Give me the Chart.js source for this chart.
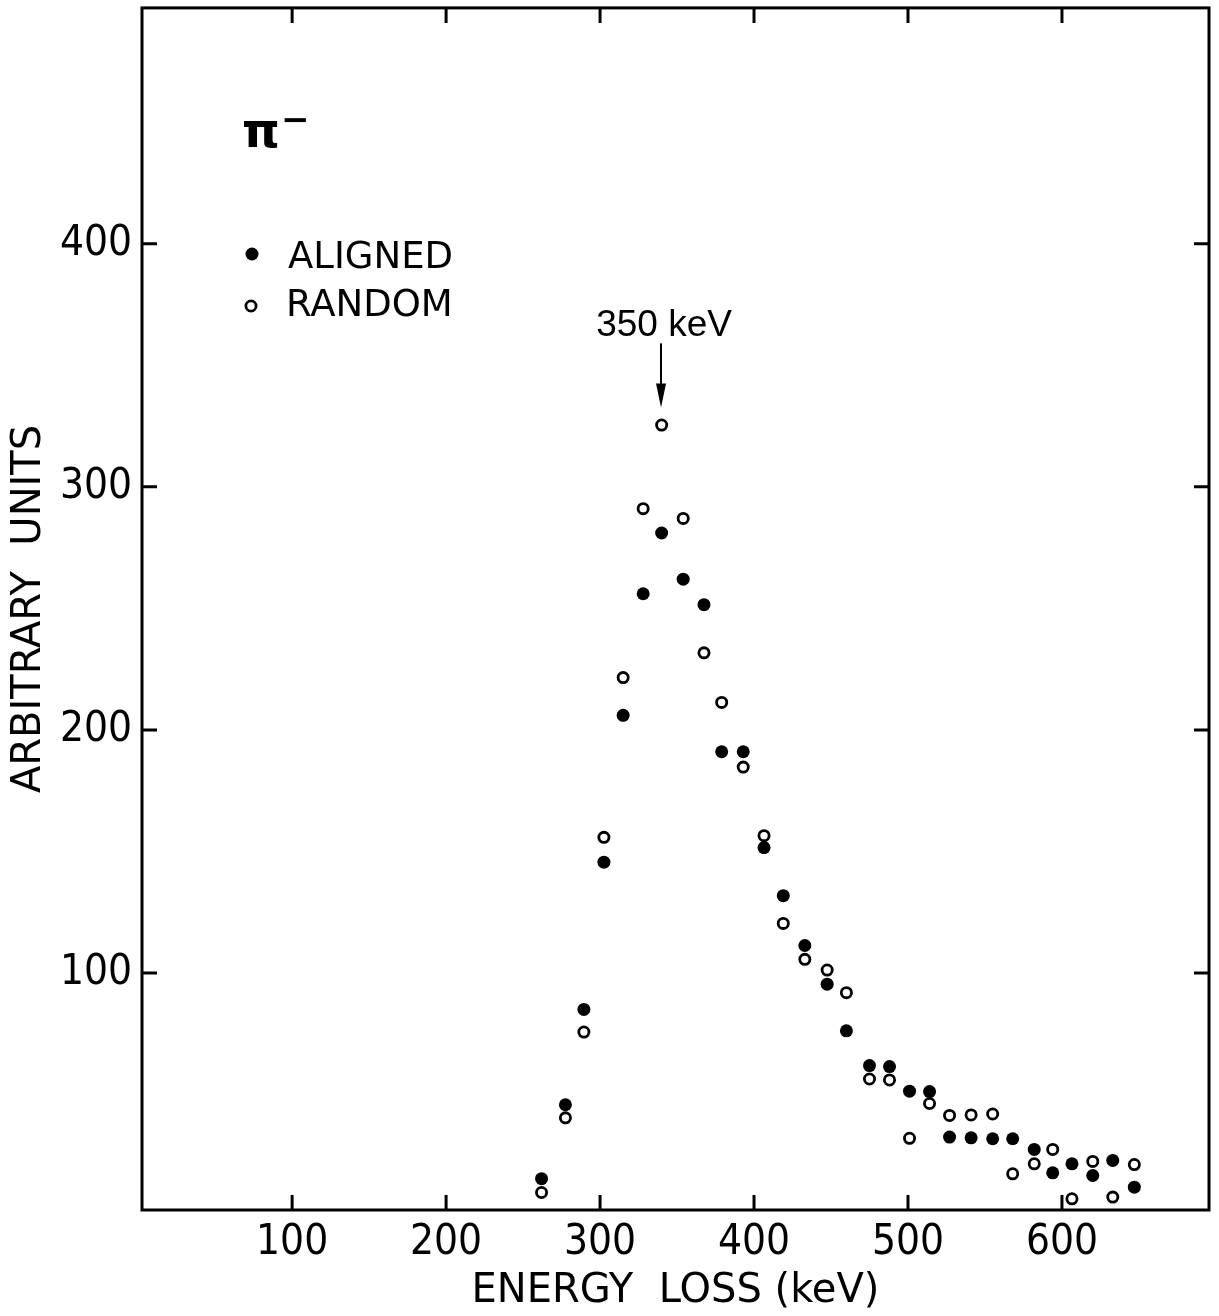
<!DOCTYPE html>
<html>
<head>
<meta charset="utf-8">
<script src="https://cdn.jsdelivr.net/npm/chart.js@4/dist/chart.umd.min.js"></script>
<style>
  html, body { margin: 0; padding: 0; background: #fff; }
  #wrap { width: 1219px; height: 1316px; position: relative; }
</style>
</head>
<body>
<div id="wrap"><canvas id="chart"></canvas></div>
<script>
// energy loss bins (keV)
const energyKeV = [262, 277.5, 289.5, 302.5, 315, 328, 340, 354, 367.5, 379,
                   393, 406.5, 419, 433, 447.5, 460, 475, 488, 501, 514,
                   527, 541, 555, 568, 582, 594, 606.5, 620, 633, 647];
// filled dots
const alignedCounts = [15.4, 45.8, 85, 145.6, 206, 256, 281, 262, 251.5, 191,
                       191, 151.6, 131.8, 111.3, 95.4, 76.2, 61.9, 61.5, 51.4, 51.2,
                       32.5, 32.2, 31.8, 31.8, 27.4, 17.8, 21.5, 16.7, 22.9, 11.9];
// open circles
const randomCounts = [9.7, 40.4, 75.7, 155.8, 221.5, 291, 325.4, 287, 231.7, 211.3,
                      184.7, 156.5, 120.4, 105.6, 101.2, 91.9, 56.4, 56, 32, 46.3,
                      41.4, 41.6, 42, 17.4, 21.5, 27.4, 7.1, 22.5, 7.8, 21.2];

const xTicks = [100, 200, 300, 400, 500, 600];
const yTicks = [100, 200, 300, 400];
const seriesNames = ['ALIGNED', 'RANDOM'];
const particle = 'π';
const peakLabel = '350 keV';
const peakArrow = {x: 339.6, from: 359, to: 332.6};  // data units

const TICK_LEN = 15;
const narrow = "'Liberation Sans Narrow', 'DejaVu Sans Condensed', sans-serif";
const plain = "'DejaVu Sans', sans-serif";

function toPoints(xs, ys) {
    return xs.map((v, i) => ({x: v, y: ys[i]}));
}

// box round the plot, inward ticks, legend and the peak arrow
const framePlugin = {
    id: 'framePlugin',
    afterDraw(chart) {
        const ctx = chart.ctx;
        const a = chart.chartArea;
        const xs = chart.scales.x, ys = chart.scales.y;
        ctx.save();
        ctx.strokeStyle = '#000';
        ctx.fillStyle = '#000';
        ctx.lineWidth = 3;
        ctx.strokeRect(a.left, a.top, a.right - a.left, a.bottom - a.top);

        ctx.beginPath();
        xTicks.forEach(v => {
            const px = xs.getPixelForValue(v);
            ctx.moveTo(px, a.bottom); ctx.lineTo(px, a.bottom - TICK_LEN);
            ctx.moveTo(px, a.top); ctx.lineTo(px, a.top + TICK_LEN);
        });
        yTicks.forEach(v => {
            const py = ys.getPixelForValue(v);
            ctx.moveTo(a.left, py); ctx.lineTo(a.left + TICK_LEN, py);
            ctx.moveTo(a.right, py); ctx.lineTo(a.right - TICK_LEN, py);
        });
        ctx.stroke();

        // pi minus
        ctx.textBaseline = 'alphabetic';
        ctx.textAlign = 'left';
        ctx.font = 'bold 48px ' + plain;
        ctx.fillText(particle, 242, 147);
        ctx.font = 'bold 34px ' + plain;
        ctx.fillText('\u2212', 281, 131);

        // legend
        const ds = chart.data.datasets;
        ctx.font = '37px ' + plain;
        ctx.textBaseline = 'middle';
        ctx.beginPath();
        ctx.arc(252, 254, ds[0].pointRadius, 0, Math.PI * 2);
        ctx.fill();
        ctx.fillText(seriesNames[0], 288, 258);
        ctx.beginPath();
        ctx.lineWidth = ds[1].pointBorderWidth;
        ctx.arc(251, 306, ds[1].pointRadius, 0, Math.PI * 2);
        ctx.stroke();
        ctx.fillText(seriesNames[1], 286, 306);

        // arrow at the peak
        const ax = xs.getPixelForValue(peakArrow.x);
        const ay0 = ys.getPixelForValue(peakArrow.from);
        const ay1 = ys.getPixelForValue(peakArrow.to);
        ctx.lineWidth = 2;
        ctx.beginPath();
        ctx.moveTo(ax, ay0); ctx.lineTo(ax, ay1 - 18);
        ctx.stroke();
        ctx.beginPath();
        ctx.moveTo(ax - 5, ay1 - 24);
        ctx.lineTo(ax + 5, ay1 - 24);
        ctx.lineTo(ax, ay1);
        ctx.closePath();
        ctx.fill();
        ctx.font = "37px 'Liberation Sans', sans-serif";
        ctx.textAlign = 'center';
        ctx.textBaseline = 'alphabetic';
        ctx.fillText(peakLabel, ax + 3, 336);
        ctx.restore();
    }
};

const ctx = document.getElementById('chart');
new Chart(ctx, {
    type: 'scatter',
    data: {
        datasets: [{
            label: seriesNames[0],
            data: toPoints(energyKeV, alignedCounts),
            pointStyle: 'circle',
            pointRadius: 6.5,
            pointBorderWidth: 0,
            pointBackgroundColor: '#000',
            pointBorderColor: '#000'
        }, {
            label: seriesNames[1],
            data: toPoints(energyKeV, randomCounts),
            pointStyle: 'circle',
            pointRadius: 5.1,
            pointBorderWidth: 2.8,
            pointBackgroundColor: 'rgba(0,0,0,0)',
            pointBorderColor: '#000'
        }]
    },
    options: {
        responsive: true,
        maintainAspectRatio: false,
        animation: false,
        devicePixelRatio: 1,
        layout: { padding: { top: 7, right: 10, left: 0, bottom: 0 } },
        plugins: {
            legend: { display: false },
            tooltip: { enabled: false }
        },
        scales: {
            x: {
                type: 'linear',
                min: 2.5,
                max: 695.5,
                afterBuildTicks: s => { s.ticks = xTicks.map(v => ({value: v})); },
                afterFit: s => { s.height = 106; s.paddingLeft = 0; s.paddingRight = 0; },
                grid: { drawOnChartArea: false, drawTicks: false },
                border: { display: false },
                ticks: {
                    color: '#000',
                    padding: 8,
                    font: { family: narrow, size: 42 }
                },
                title: {
                    display: true,
                    text: 'ENERGY  LOSS (keV)',
                    color: '#000',
                    font: { family: plain, size: 40 },
                    padding: { top: 0, bottom: 0 }
                }
            },
            y: {
                type: 'linear',
                min: 2.5,
                max: 497,
                afterBuildTicks: s => { s.ticks = yTicks.map(v => ({value: v})); },
                afterFit: s => { s.width = 142; s.paddingTop = 0; s.paddingBottom = 0; },
                grid: { drawOnChartArea: false, drawTicks: false },
                border: { display: false },
                ticks: {
                    color: '#000',
                    padding: 10,
                    font: { family: narrow, size: 42 }
                },
                title: {
                    display: true,
                    text: 'ARBITRARY  UNITS',
                    color: '#000',
                    font: { family: plain, size: 40 },
                    padding: { top: 6, bottom: 0 }
                }
            }
        }
    },
    plugins: [framePlugin]
});
</script>
</body>
</html>
